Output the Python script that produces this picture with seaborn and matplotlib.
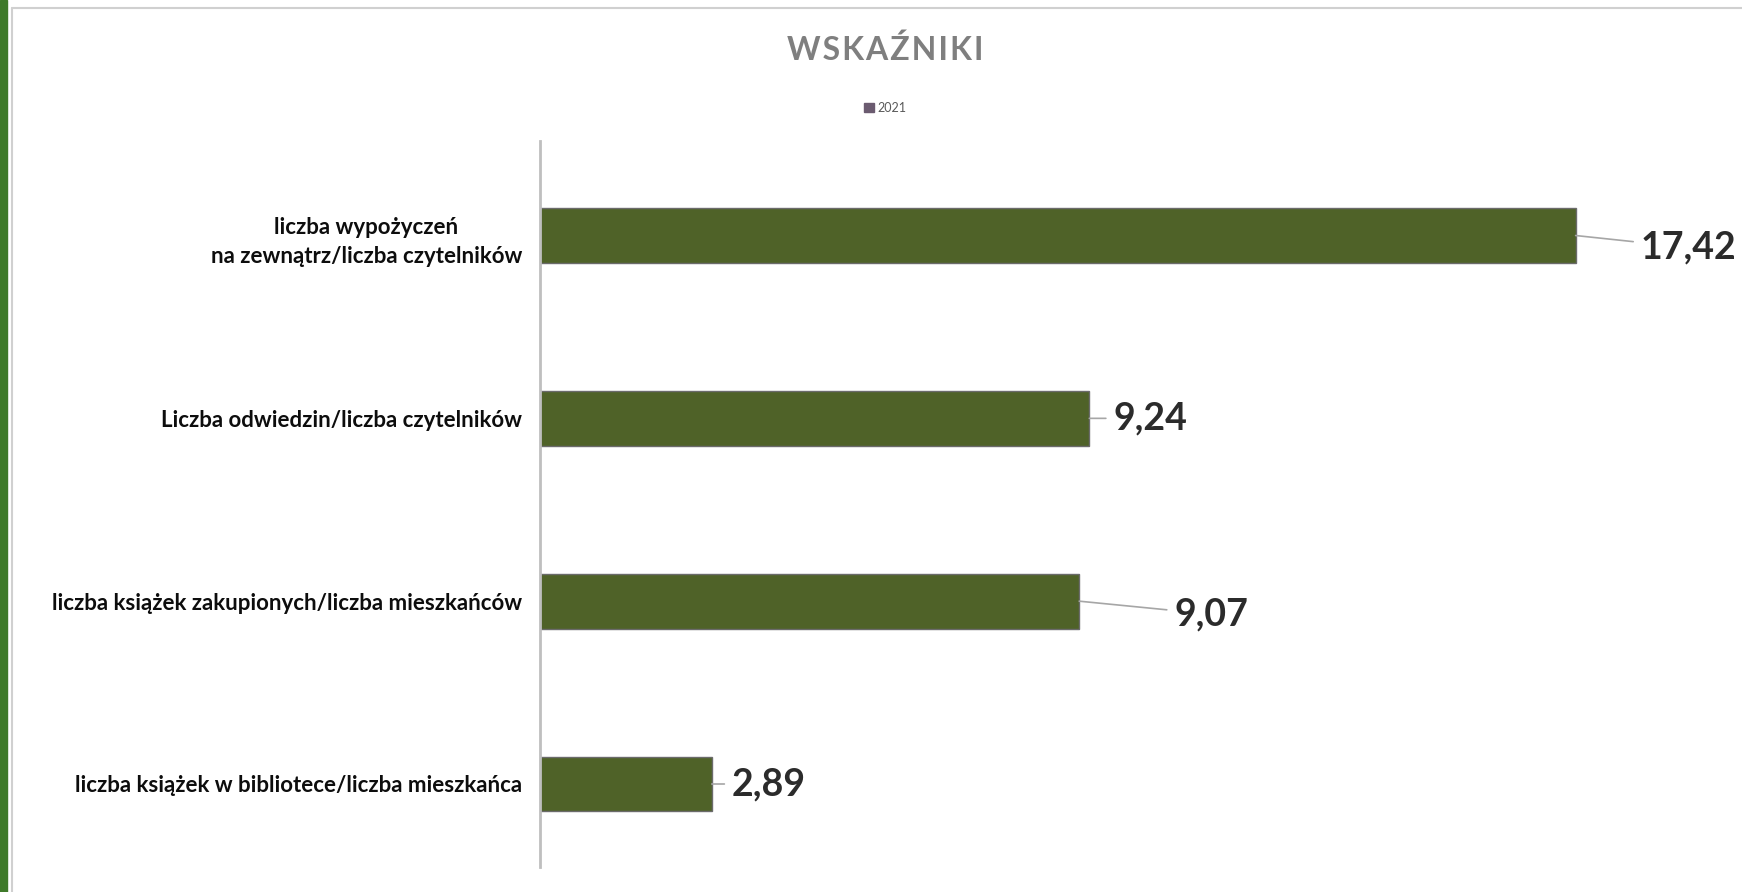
import matplotlib
matplotlib.use("Agg")
import matplotlib.pyplot as plt
import matplotlib.patches as mpatches
import seaborn as sns
import pandas as pd

# dane z wykresu
kategorie = [
    "liczba wypożyczeń\nna zewnątrz/liczba czytelników",
    "Liczba odwiedzin/liczba czytelników",
    "liczba książek zakupionych/liczba mieszkańców",
    "liczba książek w bibliotece/liczba mieszkańca",
]
wartosci_2021 = [17.42, 9.24, 9.07, 2.89]
etykiety = ["17,42", "9,24", "9,07", "2,89"]
seria = "2021"

# przesunięcia etykiet (piksele)
przesuniecia = [(65, -12), (24, 0), (95, -13), (20, 0)]

KOLOR_SLUPKA = "#4f6228"

sns.set_style("white")
plt.rcParams["font.family"] = ["Lato", "DejaVu Sans"]

df = pd.DataFrame({"kategoria": kategorie, "wartosc": wartosci_2021})

fig = plt.figure(figsize=(17.42, 8.92), dpi=100)
ax = fig.add_axes([540 / 1742, 1 - 867 / 892, 1189 / 1742, 726 / 892])

sns.barplot(data=df, x="wartosc", y="kategoria", color=KOLOR_SLUPKA, width=0.30,
            edgecolor="#6b6b6b", linewidth=1, saturation=1, ax=ax)

ax.set_xlim(0, 20)
ax.set_ylim(3.454, -0.517)
ax.set_xlabel("")
ax.set_ylabel("")
ax.set_xticks([])
for s in ["top", "right", "bottom"]:
    ax.spines[s].set_visible(False)
ax.spines["left"].set_color("#bfbfbf")
ax.spines["left"].set_linewidth(2)
ax.tick_params(axis="y", length=0, pad=13)
for t in ax.get_yticklabels():
    t.set_fontsize(16)
    t.set_fontweight("bold")
    t.set_color("#0d0d0d")
    t.set_multialignment("center")
    t.set_linespacing(1.5)

# etykiety danych z liniami
for i, (v, lab) in enumerate(zip(wartosci_2021, etykiety)):
    dx, dy = przesuniecia[i]
    ax.annotate(lab, xy=(v, i), xytext=(dx, dy), textcoords="offset pixels",
                ha="left", va="center", fontsize=27, fontweight="bold", color="#2b2b2b",
                arrowprops=dict(arrowstyle="-", color="#a6a6a6", lw=1.2,
                                shrinkA=3, shrinkB=0),
                annotation_clip=False)

# tytuł i legenda
fig.text(885 / 1742, 1 - 50 / 892, "\u200a".join("WSKAŹNIKI"), ha="center", va="center",
         fontsize=23, fontweight="bold", color="#7f7f7f")
uchwyt = mpatches.Patch(color="#6b5b70", label=seria)
fig.legend(handles=[uchwyt], loc="center", bbox_to_anchor=(885 / 1742, 1 - 108 / 892),
           frameon=False, fontsize=9, handlelength=0.8, handleheight=0.8,
           handletextpad=0.3, labelcolor="#595959")

# ramka i zielony pasek po lewej
fig.patches.append(mpatches.Rectangle((0, 0), 7 / 1742, 1, transform=fig.transFigure,
                                      color="#3f7a2a", zorder=5))
fig.add_artist(plt.Line2D([12 / 1742, 12 / 1742], [0, 1 - 8 / 892],
                          transform=fig.transFigure, color="#d0d0d0", lw=1.5))
fig.add_artist(plt.Line2D([12 / 1742, 1], [1 - 8 / 892, 1 - 8 / 892],
                          transform=fig.transFigure, color="#d0d0d0", lw=1.5))

fig.savefig("out.png", dpi=100)
